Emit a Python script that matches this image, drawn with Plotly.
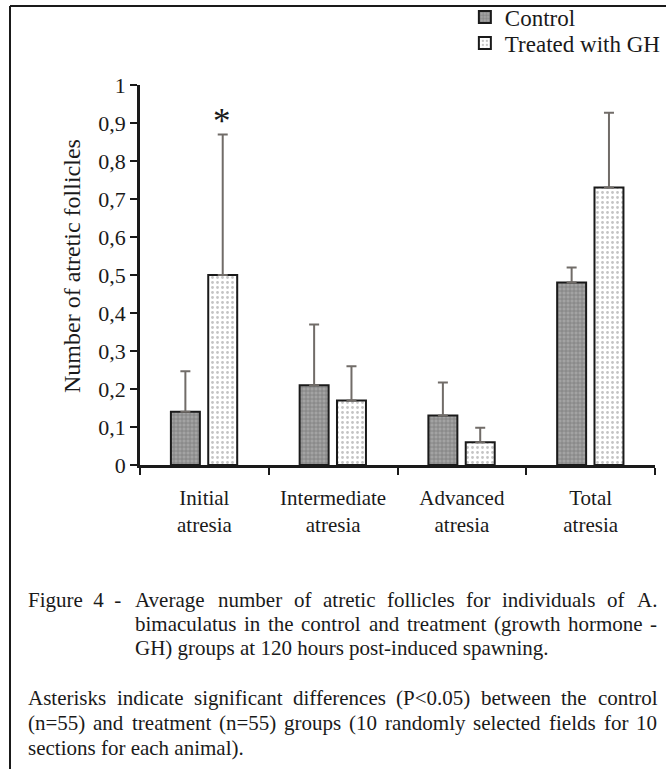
import plotly.graph_objects as go

# ---------------- data ----------------
categories = ["Initial<br>atresia", "Intermediate<br>atresia", "Advanced<br>atresia", "Total<br>atresia"]
control = [0.14, 0.21, 0.13, 0.48]
control_err = [0.107, 0.16, 0.087, 0.04]
treated = [0.50, 0.17, 0.06, 0.73]
treated_err = [0.37, 0.09, 0.038, 0.197]
y_tickvals = [0, 0.1, 0.2, 0.3, 0.4, 0.5, 0.6, 0.7, 0.8, 0.9, 1.0]
y_ticktext = ["0", "0,1", "0,2", "0,3", "0,4", "0,5", "0,6", "0,7", "0,8", "0,9", "1"]
series_names = ["Control", "Treated with GH"]

caption_label = "Figure\u00a0\u00a04\u00a0\u00a0-"
caption_just = [
    "Average number of atretic follicles for individuals of A.",
    "bimaculatus in the control and treatment (growth hormone -",
]
caption_last1 = "GH) groups at 120 hours post-induced spawning."
caption2_just = [
    "Asterisks indicate significant differences (P<0.05) between the control",
    "(n=55) and treatment (n=55) groups (10 randomly selected fields for 10",
]
caption2_last = "sections for each animal)."

# ---------------- layout helpers ----------------
W, H = 666, 769
L, R, T, B = 140, 11, 85, 304
PW, PH = W - L - R, H - T - B
FONT = "Liberation Serif, Times New Roman, serif"


def fx(p):
    return (p - L) / PW


def fy(p):
    return (H - B - p) / PH


# Times-Roman advance widths (per 1000 em)
TW = {' ': 250, '(': 333, ')': 333, ',': 250, '-': 333, '.': 250, '<': 564, '=': 564,
      'A': 722, 'B': 667, 'C': 667, 'D': 722, 'E': 611, 'F': 556, 'G': 722, 'H': 722,
      'I': 333, 'J': 389, 'K': 722, 'L': 611, 'M': 889, 'N': 722, 'O': 722, 'P': 556,
      'Q': 722, 'R': 667, 'S': 556, 'T': 611, 'U': 722, 'V': 722, 'W': 944, 'X': 722,
      'Y': 722, 'Z': 611,
      'a': 444, 'b': 500, 'c': 444, 'd': 500, 'e': 444, 'f': 333, 'g': 500, 'h': 500,
      'i': 278, 'j': 278, 'k': 500, 'l': 278, 'm': 778, 'n': 500, 'o': 500, 'p': 500,
      'q': 500, 'r': 333, 's': 389, 't': 278, 'u': 500, 'v': 500, 'w': 722, 'x': 500,
      'y': 500, 'z': 444}
for d in "0123456789":
    TW[d] = 500


def tw(s, size):
    return sum(TW.get(c, 500) for c in s) * size / 1000.0


annotations = []
CAP = 21
INK = "#1a1a1a"


def text_ann(txt, x, yc, size=CAP, anchor="left"):
    annotations.append(dict(text=txt, x=fx(x), y=fy(yc), xref="paper", yref="paper",
                            xanchor=anchor, yanchor="middle", showarrow=False,
                            borderpad=0, borderwidth=0,
                            font=dict(family=FONT, size=size, color=INK)))


def justify(txt, x0, x1, yc, size=CAP):
    words = txt.split(" ")
    ws = [tw(w, size) for w in words]
    gap = (x1 - x0 - sum(ws)) / (len(words) - 1)
    x = x0
    for w, wd in zip(words, ws):
        text_ann(w, x, yc, size)
        x += wd + gap


# ---------------- figure ----------------
fig = go.Figure()
fig.add_trace(go.Bar(
    x=categories, y=control, name=series_names[0], legend="legend",
    width=0.225, offset=-0.26,
    marker=dict(color="#8e8e8e", line=dict(color=INK, width=2),
                pattern=dict(shape="+", fgcolor="#555555", bgcolor="#a3a3a3",
                             size=4, solidity=0.35, fillmode="overlay")),
    error_y=dict(type="data", array=control_err, symmetric=False,
                 arrayminus=[0] * len(control), color="#716c68", thickness=2, width=5),
))
fig.add_trace(go.Bar(
    x=categories, y=treated, name=series_names[1], legend="legend2",
    width=0.225, offset=0.03,
    marker=dict(color="white", line=dict(color=INK, width=2),
                pattern=dict(shape=".", fgcolor="#8a8a8a", bgcolor="white",
                             size=5, solidity=0.25, fillmode="overlay")),
    error_y=dict(type="data", array=treated_err, symmetric=False,
                 arrayminus=[0] * len(treated), color="#716c68", thickness=2, width=5),
))

# asterisk over first treated bar
annotations.append(dict(text="*", x=categories[0], y=0.903, xref="x", yref="y",
                        xshift=18, showarrow=False, yanchor="middle",
                        font=dict(family=FONT, size=35, color=INK)))

# y-axis title
annotations.append(dict(text="Number of atretic follicles", x=fx(72), y=fy(266),
                        xref="paper", yref="paper", textangle=-90, showarrow=False,
                        xanchor="center", yanchor="middle",
                        font=dict(family=FONT, size=24, color=INK)))

# caption
text_ann(caption_label, 28, 600)
justify(caption_just[0], 135, 657, 600)
justify(caption_just[1], 135, 657, 624)
text_ann(caption_last1, 135, 648)
justify(caption2_just[0], 28, 657, 698)
justify(caption2_just[1], 28, 657, 723)
text_ann(caption2_last, 28, 748)

shapes = [
    dict(type="line", xref="paper", yref="paper", x0=fx(10), x1=fx(W + 5), y0=fy(6), y1=fy(6),
         line=dict(color=INK, width=2)),
    dict(type="line", xref="paper", yref="paper", x0=fx(10), x1=fx(10), y0=fy(6), y1=fy(H + 5),
         line=dict(color=INK, width=2)),
]

leg_common = dict(xref="container", yref="container", xanchor="left", yanchor="middle",
                  bgcolor="rgba(0,0,0,0)", font=dict(family=FONT, size=23, color=INK),
                  itemwidth=30, tracegroupgap=0)

fig.update_layout(
    width=W, height=H,
    margin=dict(l=L, r=R, t=T, b=B, pad=0, autoexpand=False),
    paper_bgcolor="white", plot_bgcolor="white",
    font=dict(family=FONT, color=INK),
    showlegend=True,
    legend=dict(x=0.698, y=1 - 17 / H, **leg_common),
    legend2=dict(x=0.698, y=1 - 43 / H, **leg_common),
    annotations=annotations,
    shapes=shapes,
)
fig.update_xaxes(
    showline=True, linecolor=INK, linewidth=2.5,
    ticks="outside", ticklen=7, tickwidth=2, tickcolor=INK,
    tickson="boundaries", showgrid=False, zeroline=False, tickangle=0,
    ticklabelstandoff=12,
    tickfont=dict(family=FONT, size=21, color=INK),
    range=[-0.5, 3.5],
)
fig.update_yaxes(
    range=[0, 1], tickvals=y_tickvals, ticktext=y_ticktext,
    showline=True, linecolor=INK, linewidth=2.5,
    ticks="outside", ticklen=7, tickwidth=2, tickcolor=INK,
    showgrid=False, zeroline=False,
    tickfont=dict(family=FONT, size=22, color=INK),
)

fig.write_html("out.html")
